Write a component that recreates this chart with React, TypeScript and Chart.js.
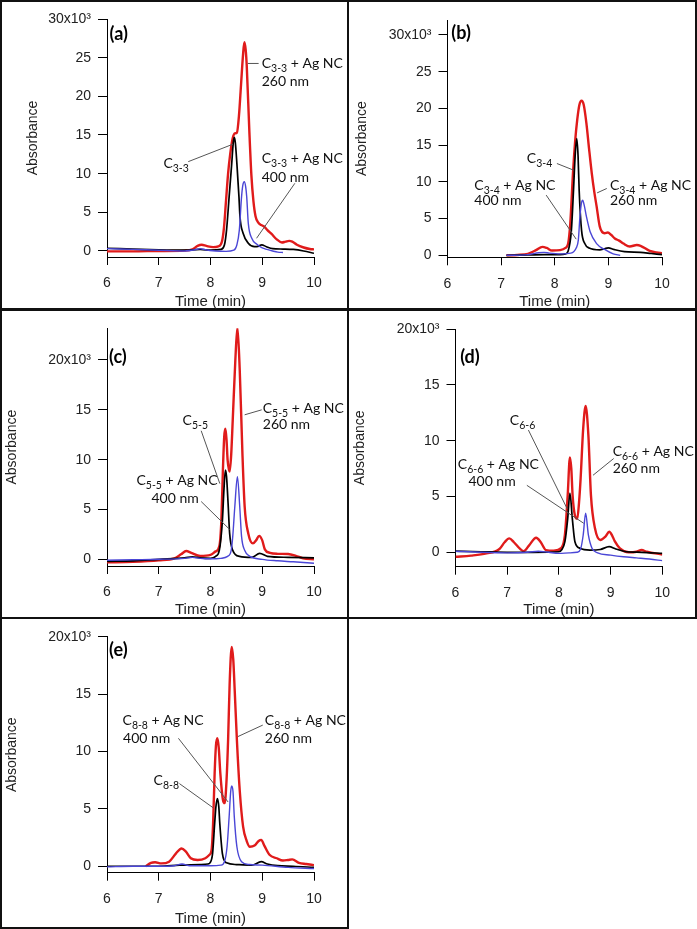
import React, { useEffect, useRef } from 'react';
import { Chart, registerables } from 'chart.js';
Chart.register(...registerables);

// ---------- data (time in min, absorbance in thousands) ----------
const xTicks = [6, 7, 8, 9, 10];
const yTicks30 = [0, 5, 10, 15, 20, 25, 30];
const yTicks20 = [0, 5, 10, 15, 20];

// Panel (a) C3-3
const redA = [[6.0,-0.05],[6.5,-0.05],[7.0,0.0],[7.5,0.05],[7.65,0.2],[7.75,0.65],[7.83,0.8],[7.92,0.65],[8.05,0.5],[8.15,0.6],[8.22,1.2],[8.26,3.0],[8.30,6.5],[8.34,10.0],[8.38,12.5],[8.43,14.6],[8.47,15.2],[8.51,15.3],[8.55,17.5],[8.59,21.5],[8.63,25.5],[8.655,27.0],[8.68,26.0],[8.70,24.0],[8.75,15.6],[8.79,9.8],[8.83,6.4],[8.87,4.5],[8.92,3.7],[8.98,3.35],[9.03,3.2],[9.10,2.7],[9.18,2.2],[9.28,1.5],[9.38,1.1],[9.45,1.2],[9.52,1.3],[9.58,1.2],[9.67,0.8],[9.8,0.45],[9.92,0.25],[10.0,0.2]];
const blackA = [[6.0,0.35],[6.5,0.25],[7.0,0.15],[7.5,0.1],[7.8,0.2],[8.0,0.1],[8.2,0.2],[8.27,0.8],[8.31,2.7],[8.36,7.0],[8.41,11.3],[8.44,14.0],[8.46,14.7],[8.48,14.0],[8.51,11.3],[8.55,7.0],[8.57,4.4],[8.63,2.3],[8.73,1.0],[8.85,0.55],[8.92,0.6],[8.99,0.8],[9.08,0.55],[9.2,0.3],[9.4,0.25],[9.6,0.2],[9.8,0.0],[10.0,-0.3]];
const blueA = [[6.0,0.3],[6.5,0.2],[7.0,0.1],[7.5,0.0],[7.7,0.15],[7.8,0.3],[7.9,0.15],[8.1,0.0],[8.3,-0.05],[8.45,0.1],[8.51,0.8],[8.557,2.7],[8.60,7.0],[8.625,8.5],[8.653,8.95],[8.68,8.3],[8.70,7.0],[8.73,3.6],[8.80,1.6],[8.89,0.9],[9.0,0.4],[9.09,0.2],[9.2,0.0],[9.3,-0.15],[9.4,-0.2]];

// Panel (b) C3-4
const redB = [[7.1,0.0],[7.3,0.05],[7.5,0.2],[7.65,0.7],[7.77,1.15],[7.85,1.0],[7.95,0.65],[8.1,0.7],[8.2,1.0],[8.25,1.6],[8.29,4.4],[8.34,11.2],[8.38,15.5],[8.42,18.5],[8.46,20.5],[8.50,21.06],[8.54,20.5],[8.59,18.0],[8.64,14.5],[8.69,11.2],[8.74,8.5],[8.78,6.7],[8.84,3.9],[8.93,3.0],[8.99,3.1],[9.05,2.8],[9.12,2.3],[9.2,2.0],[9.28,1.6],[9.40,1.2],[9.53,1.4],[9.6,1.3],[9.77,0.6],[9.9,0.4],[10.0,0.3]];
const blackB = [[7.1,0.0],[7.5,0.05],[7.8,0.1],[8.1,0.1],[8.2,0.2],[8.25,0.6],[8.31,3.4],[8.35,8.9],[8.38,13.5],[8.41,15.9],[8.435,13.5],[8.455,8.9],[8.50,3.4],[8.56,1.6],[8.64,1.0],[8.84,0.75],[8.93,0.9],[9.0,1.0],[9.1,0.8],[9.3,0.5],[9.6,0.4],[9.8,0.25],[10.0,0.1]];
const blueB = [[7.1,0.0],[7.5,0.1],[7.7,0.35],[7.8,0.4],[7.9,0.3],[8.1,0.2],[8.3,0.3],[8.4,1.0],[8.44,2.1],[8.47,5.3],[8.50,7.2],[8.52,7.5],[8.55,6.8],[8.59,5.3],[8.66,3.2],[8.78,1.6],[8.93,0.8],[9.09,0.2],[9.22,0.0]];

// Panel (c) C5-5
const redC = [[6.0,-0.3],[6.5,-0.25],[7.0,-0.1],[7.3,0.1],[7.43,0.5],[7.53,0.83],[7.63,0.65],[7.8,0.35],[8.0,0.45],[8.1,0.8],[8.17,1.3],[8.21,3.9],[8.24,9.0],[8.265,12.3],[8.288,13.1],[8.31,12.0],[8.33,10.0],[8.37,8.8],[8.40,10.5],[8.43,14.0],[8.48,20.0],[8.52,23.2],[8.565,19.0],[8.617,10.6],[8.66,5.3],[8.73,2.6],[8.82,1.6],[8.88,1.9],[8.94,2.35],[9.0,1.9],[9.05,1.0],[9.15,0.65],[9.3,0.55],[9.5,0.53],[9.65,0.35],[9.79,0.1],[10.0,0.0]];
const blackC = [[6.0,-0.2],[6.5,-0.15],[7.0,0.0],[7.5,0.15],[7.65,0.25],[7.8,0.15],[8.0,0.1],[8.1,0.3],[8.17,0.9],[8.23,3.9],[8.26,7.0],[8.288,8.96],[8.31,8.3],[8.34,5.6],[8.37,2.6],[8.43,0.9],[8.56,0.3],[8.8,0.2],[8.95,0.6],[9.1,0.3],[9.5,0.2],[10.0,0.15]];
const blueC = [[6.0,-0.1],[6.5,-0.05],[7.0,0.0],[7.5,0.1],[7.65,0.2],[7.8,0.1],[8.0,0.05],[8.2,0.1],[8.33,0.3],[8.40,0.9],[8.43,2.3],[8.47,5.3],[8.52,8.3],[8.565,5.3],[8.60,2.3],[8.66,0.9],[8.76,0.3],[9.0,0.0],[9.3,-0.15],[9.6,-0.25],[10.0,-0.4]];

// Panel (d) C6-6
const redD = [[6.0,-0.4],[6.3,-0.3],[6.6,-0.1],[6.85,0.3],[6.95,0.9],[7.04,1.25],[7.13,0.9],[7.25,0.3],[7.32,0.1],[7.42,0.6],[7.56,1.3],[7.65,0.9],[7.75,0.2],[7.9,0.15],[8.05,0.4],[8.116,1.55],[8.17,5.1],[8.213,8.5],[8.24,7.5],[8.265,5.1],[8.31,3.3],[8.355,3.0],[8.39,4.5],[8.42,6.6],[8.47,11.1],[8.517,13.1],[8.57,10.5],[8.62,5.1],[8.70,2.1],[8.80,1.1],[8.9,1.4],[8.974,1.84],[9.03,1.5],[9.08,1.0],[9.18,0.36],[9.35,0.0],[9.5,0.05],[9.6,0.2],[9.7,0.05],[10.0,-0.2]];
const blackD = [[6.0,0.1],[6.5,0.05],[7.0,0.0],[7.5,0.0],[8.0,0.05],[8.05,0.2],[8.116,0.95],[8.17,3.0],[8.213,5.3],[8.26,3.0],[8.31,0.95],[8.41,0.36],[8.6,0.2],[8.8,0.25],[8.97,0.5],[9.1,0.3],[9.3,0.05],[9.6,0.0],[10.0,-0.1]];
const blueD = [[6.0,0.1],[6.5,0.0],[7.0,-0.05],[7.4,0.0],[7.6,0.1],[7.8,0.0],[8.0,-0.1],[8.2,-0.05],[8.35,0.0],[8.42,0.3],[8.47,1.55],[8.517,3.5],[8.57,1.55],[8.64,0.36],[8.75,-0.05],[9.0,-0.25],[9.25,-0.4],[9.5,-0.5],[9.75,-0.6],[10.0,-0.75]];

// Panel (e) C8-8
const redE = [[6.75,0.0],[6.85,0.3],[6.93,0.35],[7.05,0.25],[7.2,0.4],[7.33,1.1],[7.44,1.55],[7.52,1.3],[7.62,0.7],[7.75,0.55],[7.9,0.7],[7.98,1.0],[8.02,1.4],[8.05,3.7],[8.08,8.1],[8.105,10.5],[8.133,11.15],[8.16,10.3],[8.19,8.1],[8.24,5.8],[8.274,5.5],[8.31,7.5],[8.34,11.0],[8.37,15.9],[8.41,19.1],[8.44,18.0],[8.468,15.3],[8.51,11.0],[8.565,6.6],[8.63,3.45],[8.70,2.2],[8.76,1.7],[8.85,1.8],[8.93,2.2],[8.98,2.3],[9.04,1.8],[9.14,1.0],[9.28,0.7],[9.40,0.5],[9.5,0.55],[9.58,0.6],[9.71,0.3],[9.85,0.2],[10.0,0.1]];
const blackE = [[6.0,0.0],[6.5,0.0],[7.0,0.0],[7.4,0.1],[7.8,0.15],[7.95,0.2],[7.99,0.3],[8.04,1.1],[8.08,3.7],[8.105,5.2],[8.133,5.9],[8.16,5.2],[8.18,3.7],[8.23,1.1],[8.31,0.3],[8.5,0.15],[8.8,0.1],[8.98,0.4],[9.1,0.2],[9.3,0.05],[9.6,0.0],[10.0,-0.1]];
const blueE = [[6.0,-0.05],[6.5,0.0],[7.0,0.0],[7.3,0.05],[7.45,0.2],[7.6,0.05],[8.0,0.05],[8.2,0.1],[8.27,0.4],[8.32,1.7],[8.36,4.3],[8.39,6.5],[8.41,7.0],[8.435,6.5],[8.46,4.3],[8.51,1.7],[8.6,0.4],[8.75,0.15],[9.0,0.1],[9.5,-0.1],[10.0,-0.2]];

// Annotation texts: [t, v, mainText, subscript, trailing]
const nc = ' + Ag NC';
const textsA = [[8.99,23.6,'C','3-3',nc],[8.99,21.3,'260 nm','',''],[7.09,10.7,'C','3-3',''],[8.99,11.4,'C','3-3',nc],[8.99,8.9,'400 nm','','']];
const textsB = [[7.48,12.6,'C','3-4',''],[6.5,8.9,'C','3-4',nc],[6.5,6.85,'400 nm','',''],[9.03,8.9,'C','3-4',nc],[9.03,6.85,'260 nm','','']];
const textsC = [[9.01,14.65,'C','5-5',nc],[9.01,13.1,'260 nm','',''],[7.46,13.5,'C','5-5',''],[6.57,7.45,'C','5-5',nc],[6.86,5.7,'400 nm','','']];
const textsD = [[7.05,11.4,'C','6-6',''],[6.045,7.46,'C','6-6',nc],[6.25,5.9,'400 nm','',''],[9.04,8.65,'C','6-6',nc],[9.04,7.1,'260 nm','','']];
const textsE = [[6.3,12.3,'C','8-8',nc],[6.31,10.7,'400 nm','',''],[6.9,7.1,'C','8-8',''],[9.05,12.3,'C','8-8',nc],[9.05,10.7,'260 nm','','']];

// Leader lines: [t1, v1, t2, v2]
const leadersA = [[8.72,24.25,8.93,24.25],[7.57,11.55,8.43,13.8],[9.63,8.75,8.89,1.64]];
const leadersB = [[8.04,12.5,8.35,11.6],[7.84,8.2,8.40,2.2],[8.97,9.1,8.79,8.5]];
const leadersC = [[8.99,15.0,8.66,14.5],[7.82,12.9,8.18,7.6],[7.82,5.8,8.37,3.0]];
const leadersD = [[7.41,10.95,8.16,3.9],[7.38,6.0,8.48,2.6],[9.06,8.4,8.66,6.9]];
const leadersE = [[7.38,11.15,8.34,5.6],[7.40,7.2,8.05,5.1],[9.01,12.3,8.53,11.3]];

// Panel tags: [t, v, text]
const tagA = [6.05, 28.1, '(a)'];
const tagB = [6.07, 30.2, '(b)'];
const tagC = [6.04, 20.25, '(c)'];
const tagD = [6.09, 17.5, '(d)'];
const tagE = [6.04, 18.8, '(e)'];

// ---------- layout ----------
const RED = '#e01b1b';
const BLUE = '#4a46d6';
const AX_FONT = '"Liberation Sans", Arial, sans-serif';
const ANN_FONT = 'Lato, "Open Sans", sans-serif';

const panels = [
  { key: 'a', left: 0, top: 0, w: 347, h: 311, L: 107, R: 314, T: 19, B: 257, yMin: -0.78, yMax: 30, yTicks: yTicks30, yTitlePad: 24.9,
    red: redA, black: blackA, blue: blueA, texts: textsA, leaders: leadersA, tag: tagA },
  { key: 'b', left: 347, top: 0, w: 350, h: 311, L: 100.5, R: 315, T: 20, B: 257.3, yMin: -0.27, yMax: 32.04, yTicks: yTicks30, yTitlePad: 6.6,
    red: redB, black: blackB, blue: blueB, texts: textsB, leaders: leadersB, tag: tagB },
  { key: 'c', left: 0, top: 308, w: 347, h: 311, L: 107, R: 314, T: 20.3, B: 258, yMin: -0.67, yMax: 23.18, yTicks: yTicks20, yTitlePad: 3.3,
    red: redC, black: blackC, blue: blueC, texts: textsC, leaders: leadersC, tag: tagC },
  { key: 'd', left: 347, top: 308, w: 350, h: 311, L: 108.5, R: 315.3, T: 21, B: 258.7, yMin: -1.29, yMax: 20, yTicks: yTicks20, yTitlePad: 4.9,
    red: redD, black: blackD, blue: blueD, texts: textsD, leaders: leadersD, tag: tagD },
  { key: 'e', left: 0, top: 617, w: 347, h: 311, L: 107, R: 314, T: 19.7, B: 255.7, yMin: -0.56, yMax: 20, yTicks: yTicks20, yTitlePad: 3.3,
    red: redE, black: blackE, blue: blueE, texts: textsE, leaders: leadersE, tag: tagE },
];

const boxes = [
  { left: 0, top: 0, width: 349, height: 311 },
  { left: 347, top: 0, width: 350, height: 311 },
  { left: 0, top: 308, width: 349, height: 311 },
  { left: 347, top: 308, width: 350, height: 311 },
  { left: 0, top: 617, width: 349, height: 312 },
];

const toXY = (arr: number[][]) => arr.map(([x, y]) => ({ x, y }));

function PanelChart({ p }: { p: any }) {
  const ref = useRef<HTMLCanvasElement>(null);
  useEffect(() => {
    const canvas = ref.current!;
    const topVal = p.yTicks[p.yTicks.length - 1];
    const annot = {
      id: 'annot_' + p.key,
      afterDatasetsDraw(chart: any) {
        const ctx = chart.ctx;
        const xs = chart.scales.x;
        const ys = chart.scales.y;
        ctx.save();
        ctx.strokeStyle = '#555';
        ctx.lineWidth = 1;
        for (const [t1, v1, t2, v2] of p.leaders) {
          ctx.beginPath();
          ctx.moveTo(xs.getPixelForValue(t1), ys.getPixelForValue(v1));
          ctx.lineTo(xs.getPixelForValue(t2), ys.getPixelForValue(v2));
          ctx.stroke();
        }
        ctx.fillStyle = '#111';
        ctx.textBaseline = 'alphabetic';
        ctx.textAlign = 'left';
        for (const [t, v, main, sub, tail] of p.texts) {
          let x = xs.getPixelForValue(t);
          const y = ys.getPixelForValue(v);
          ctx.font = `14px ${ANN_FONT}`;
          ctx.fillText(main, x, y);
          x += ctx.measureText(main).width;
          if (sub) {
            ctx.font = `10.5px ${ANN_FONT}`;
            ctx.fillText(sub, x, y + 4);
            x += ctx.measureText(sub).width;
          }
          if (tail) {
            ctx.font = `14px ${ANN_FONT}`;
            ctx.fillText(tail, x, y);
          }
        }
        const [tt, tv, tagText] = p.tag;
        ctx.font = `bold 18px ${ANN_FONT}`;
        ctx.textBaseline = 'middle';
        ctx.fillStyle = '#000';
        ctx.fillText(tagText, xs.getPixelForValue(tt), ys.getPixelForValue(tv));
        ctx.restore();
      },
    };
    const lineDs = (data: number[][], color: string, width: number, order: number) => ({
      data: toXY(data),
      borderColor: color,
      backgroundColor: color,
      borderWidth: width,
      pointRadius: 0,
      fill: false,
      cubicInterpolationMode: 'monotone',
      order,
    });
    const chart = new Chart(canvas, {
      type: 'line',
      data: {
        datasets: [
          lineDs(p.blue, BLUE, 1.4, 1),
          lineDs(p.black, '#000', 1.7, 2),
          lineDs(p.red, RED, 2.4, 3),
        ] as any,
      },
      options: {
        responsive: false,
        maintainAspectRatio: false,
        animation: false,
        parsing: false,
        layout: { padding: { left: 0, top: p.T, right: p.w - p.R, bottom: 0 } },
        plugins: { legend: { display: false }, tooltip: { enabled: false } },
        scales: {
          x: {
            type: 'linear',
            min: 6,
            max: 10,
            afterBuildTicks: (s: any) => { s.ticks = xTicks.map((v) => ({ value: v })); },
            afterFit: (s: any) => { s.height = p.h - p.B; },
            grid: { display: true, drawOnChartArea: false, drawTicks: true, tickLength: 8, color: '#000', lineWidth: 1 },
            border: { display: true, color: '#000', width: 1 },
            ticks: { font: { family: AX_FONT, size: 14 }, color: '#222', padding: 10, maxRotation: 0, autoSkip: false },
            title: { display: true, text: 'Time (min)', font: { family: AX_FONT, size: 15 }, color: '#222', padding: 0 },
          },
          y: {
            type: 'linear',
            min: p.yMin,
            max: p.yMax,
            afterBuildTicks: (s: any) => { s.ticks = p.yTicks.map((v: number) => ({ value: v })); },
            afterFit: (s: any) => { s.width = p.L; },
            grid: { display: true, drawOnChartArea: false, drawTicks: true, tickLength: 9, color: '#000', lineWidth: 1 },
            border: { display: true, color: '#000', width: 1 },
            ticks: {
              font: { family: AX_FONT, size: 14 },
              color: '#222',
              padding: 7,
              autoSkip: false,
              callback: (v: any) => (v === topVal ? `${v}x10³` : `${v}`),
            },
            title: { display: true, text: 'Absorbance', font: { family: AX_FONT, size: 14 }, color: '#222', padding: { top: p.yTitlePad, bottom: 0 } },
          },
        },
      } as any,
      plugins: [annot],
    });
    return () => chart.destroy();
  }, []);
  return (
    <canvas
      ref={ref}
      width={p.w}
      height={p.h}
      style={{ position: 'absolute', left: p.left, top: p.top, width: p.w, height: p.h }}
    />
  );
}

export default function App() {
  return (
    <div style={{ position: 'absolute', left: 0, top: 0, width: 697, height: 929, background: '#fff', overflow: 'hidden' }}>
      {boxes.map((b, i) => (
        <div
          key={i}
          style={{ position: 'absolute', left: b.left, top: b.top, width: b.width, height: b.height, border: '2px solid #111', boxSizing: 'border-box' }}
        />
      ))}
      {panels.map((p) => (
        <PanelChart key={p.key} p={p} />
      ))}
    </div>
  );
}
